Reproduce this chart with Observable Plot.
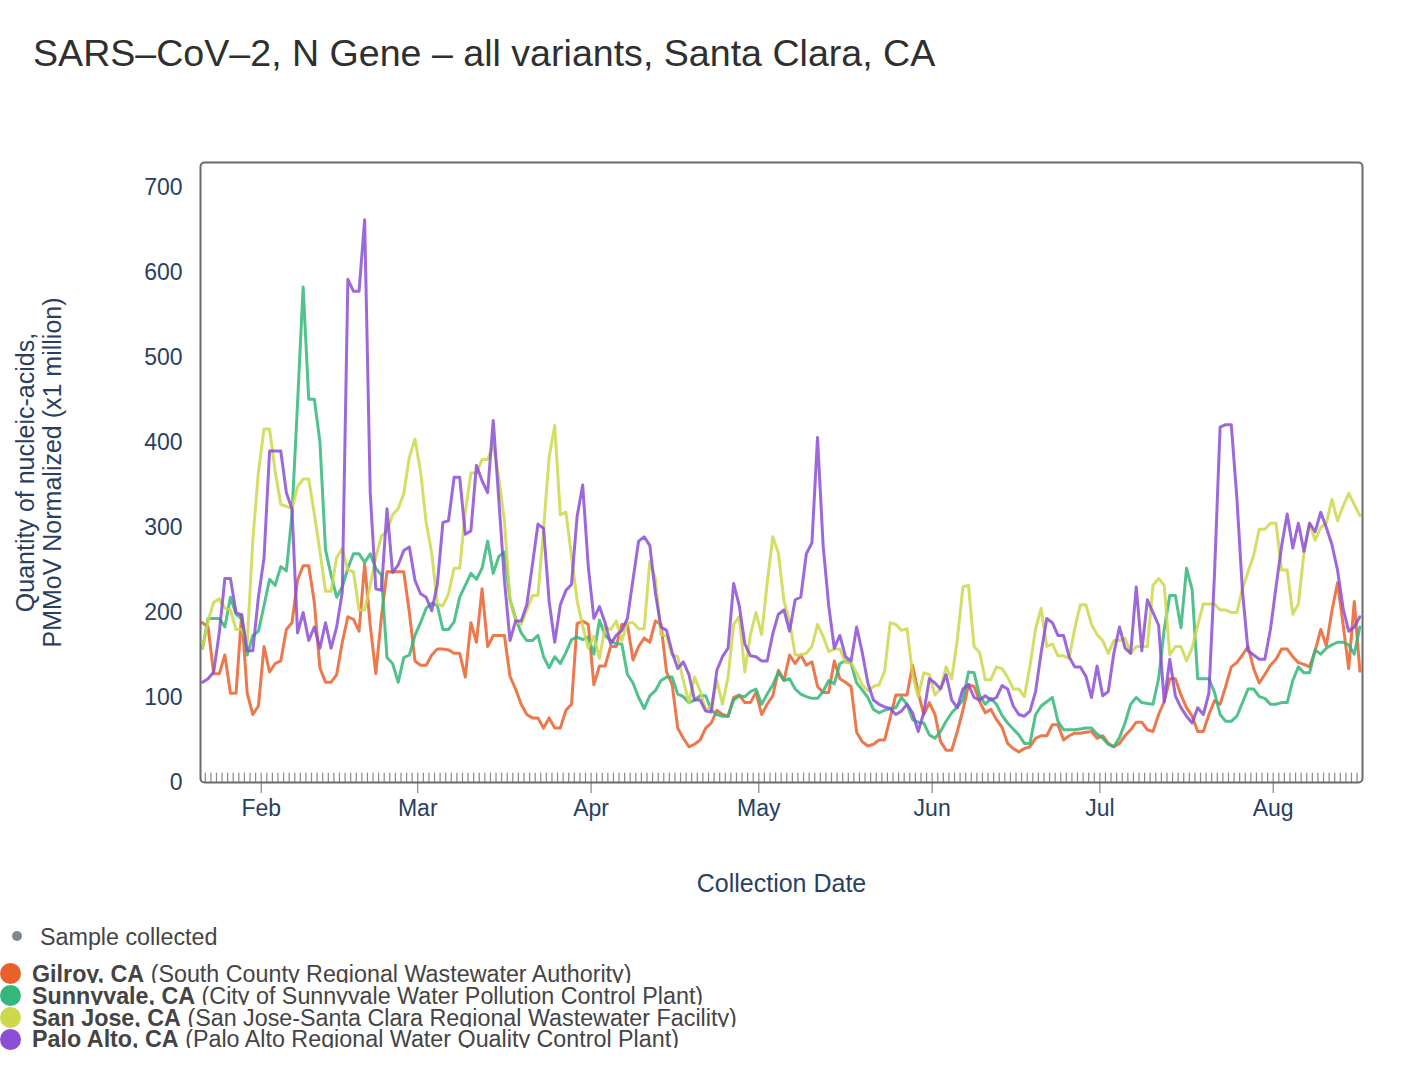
<!DOCTYPE html>
<html>
<head>
<meta charset="utf-8">
<script src="https://cdn.jsdelivr.net/npm/d3@7"></script>
<script src="https://cdn.jsdelivr.net/npm/@observablehq/plot@0.6"></script>
<style>
  html, body { margin: 0; padding: 0; background: #fff; }
  #page { position: relative; width: 1402px; height: 1066px; overflow: hidden; font-family: "Liberation Sans", Arial, Helvetica, sans-serif; }
  #title { position: absolute; left: 33px; top: 35px; font-size: 37.6px; line-height: 37px; color: #2f2f2f; white-space: nowrap; }
  #chart { position: absolute; left: 0; top: 100px; }
  .lg-row { position: absolute; left: 32px; height: 23px; line-height: 28px; font-size: 23.3px; color: #444; white-space: nowrap; overflow: hidden; }
  .lg-row b { font-weight: bold; }
  .dot { position: absolute; border-radius: 50%; }
</style>
</head>
<body>
<div id="page">
  <div id="title"></div>
  <div id="chart"></div>
  <div id="legend"></div>
</div>
<script>
// ---- data ----
const titleText = "SARS\u2013CoV\u20132, N Gene \u2013 all variants, Santa Clara, CA";
const yTitle1 = "Quantity of nucleic-acids,";
const yTitle2 = "PMMoV Normalized (x1 million)";
const xTitle = "Collection Date";
const firstSampleDate = [2023, 0, 21]; // daily samples from this date
const siteNames = ["Gilroy, CA", "Sunnyvale, CA", "San Jose, CA", "Palo Alto, CA"];
const siteDescs = [
  "(South County Regional Wastewater Authority)",
  "(City of Sunnyvale Water Pollution Control Plant)",
  "(San Jose-Santa Clara Regional Wastewater Facility)",
  "(Palo Alto Regional Water Quality Control Plant)"
];
const siteColors = ["#E9602B", "#33B77A", "#CDD84B", "#8B4DD6"];
const monthTickDates = ["2023-02-01","2023-03-01","2023-04-01","2023-05-01","2023-06-01","2023-07-01","2023-08-01"];
const yTicks = [0, 100, 200, 300, 400, 500, 600, 700];

const gilroy = [
  188,183,128,128,150,105,105,198,105,80,
  90,160,130,140,143,180,188,238,255,255,
  212,135,118,118,127,165,195,192,178,257,
  185,128,195,248,248,248,248,200,143,138,
  138,150,157,157,156,152,152,124,188,165,
  228,160,173,173,173,125,110,92,80,76,
  76,64,76,64,64,85,92,187,190,186,
  115,137,137,160,160,186,186,144,160,170,
  165,190,186,130,115,64,52,42,45,50,
  64,70,85,80,78,100,103,94,94,106,
  80,92,102,132,120,150,140,150,138,142,
  113,106,106,143,122,118,113,59,48,43,
  45,50,50,76,103,103,103,138,106,80,
  94,80,48,38,38,60,85,115,113,95,
  82,86,74,65,46,40,36,40,42,52,
  55,55,68,68,50,55,58,58,59,60,
  52,55,46,42,46,55,62,71,71,62,
  60,80,95,122,122,103,88,78,60,60,
  80,96,92,113,136,141,150,160,134,117,
  127,138,145,157,157,148,141,139,136,155,
  180,161,202,235,186,134,213,131
];
const sunnyvale = [
  158,193,193,193,183,218,198,193,150,173,
  178,208,239,232,254,249,315,446,583,451,
  451,401,274,244,218,230,252,269,269,259,
  269,252,244,147,140,118,147,150,173,188,
  205,211,208,180,180,189,218,232,246,239,
  252,284,246,266,271,215,193,176,167,167,
  173,148,135,148,140,153,168,171,168,171,
  151,191,173,167,163,163,127,117,100,87,
  102,108,120,124,124,104,101,94,97,102,
  102,85,80,78,78,97,102,101,107,110,
  92,104,115,130,120,122,110,104,101,99,
  99,107,120,116,140,143,140,117,109,100,
  86,82,85,87,88,100,92,74,71,70,
  56,52,60,72,82,89,97,130,129,102,
  92,99,92,79,70,63,56,46,46,80,
  90,95,100,72,62,62,62,63,64,64,
  57,52,45,42,53,70,92,100,94,93,
  92,122,180,220,220,182,252,227,122,122,
  122,106,80,72,72,78,94,110,110,101,
  99,92,92,94,94,120,136,129,129,156,
  151,158,162,165,165,162,151,183
];
const sanJose = [
  158,190,212,216,205,203,180,180,165,285,
  365,416,416,366,327,325,322,348,357,357,
  316,272,225,225,265,275,250,248,203,203,
  232,265,290,295,315,322,340,383,404,366,
  306,270,210,208,222,252,252,318,364,364,
  380,380,398,358,308,214,190,186,203,220,
  220,298,383,420,315,318,266,214,184,158,
  172,146,183,180,190,167,188,188,181,181,
  260,240,174,172,150,148,120,94,124,108,
  85,90,120,92,124,186,195,130,174,200,
  174,235,289,270,213,190,150,150,152,160,
  186,172,154,157,157,141,141,129,115,108,
  113,115,131,188,186,179,181,127,101,129,
  127,103,110,136,122,168,230,232,160,153,
  121,121,136,134,124,110,110,101,137,181,
  205,160,163,149,149,146,181,209,209,186,
  174,167,152,167,167,170,152,160,160,160,
  232,240,232,150,160,160,143,158,185,210,
  210,210,203,203,200,200,228,248,267,298,
  298,305,305,250,250,198,210,270,305,285,
  300,305,333,308,325,340,327,314
];
const paloAlto = [
  118,122,130,176,240,240,200,197,155,155,
  218,264,390,390,390,341,322,176,200,167,
  183,158,188,158,183,224,592,578,578,662,
  341,228,226,322,247,256,273,277,238,222,
  218,202,233,306,308,359,359,292,296,373,
  355,341,426,332,238,167,190,190,209,256,
  304,299,213,165,209,226,233,313,350,254,
  193,207,188,163,173,179,193,239,284,289,
  279,223,183,179,153,134,142,127,97,97,
  84,83,132,148,158,234,208,163,149,148,
  143,143,175,198,203,178,215,218,269,282,
  406,279,208,158,173,148,143,183,153,117,
  97,92,89,87,80,84,92,82,60,82,
  122,117,110,127,97,88,110,115,100,97,
  102,97,100,114,110,90,80,78,84,107,
  153,193,188,173,173,148,136,136,125,100,
  137,102,107,152,183,158,152,230,155,215,
  200,185,95,145,102,88,78,70,88,80,
  105,245,418,421,421,335,225,155,150,145,
  145,180,230,278,316,276,305,272,305,295,
  318,300,280,250,205,178,183,195
];
const seriesValues = [gilroy, sunnyvale, sanJose, paloAlto];

// ---- build table ----
const rows = [];
seriesValues.forEach((vals, s) => {
  vals.forEach((v, i) => {
    rows.push({
      site: siteNames[s],
      date: new Date(Date.UTC(firstSampleDate[0], firstSampleDate[1], firstSampleDate[2] + i, 12)),
      value: v
    });
  });
});
const nDays = gilroy.length;
const xDomain = [
  new Date(Date.UTC(2023, 0, 21, 3, 26)),
  new Date(Date.UTC(2023, 0, 21 + nDays - 1, 23, 17))
];
const dayTicks = d3.utcDay.range(new Date(Date.UTC(2023, 0, 22)), xDomain[1]);
const monthTicks = monthTickDates.map(s => new Date(s + "T00:00:00Z"));
const axisColor = "#2a3f5f";

const chart = Plot.plot({
  width: 1402,
  height: 810,
  marginLeft: 200,
  marginRight: 40,
  marginTop: 62,
  marginBottom: 128,
  style: { background: "white", fontFamily: "'Liberation Sans', Arial, sans-serif", overflow: "visible" },
  x: { type: "utc", domain: xDomain },
  y: { domain: [0, 729.4] },
  color: { domain: siteNames, range: siteColors },
  marks: [
    Plot.ruleX(dayTicks, { x: d => d, y1: 0, y2: 11, stroke: "#8a8a8a", strokeWidth: 1.2 }),
    Plot.line(rows, { x: "date", y: "value", z: "site", stroke: "site", strokeWidth: 3, strokeOpacity: 0.85 }),
    Plot.frame({ stroke: "#6b6b6b", strokeWidth: 2, rx: 4 }),
    Plot.axisX({ ticks: monthTicks, tickFormat: d3.utcFormat("%b"), tickSize: 11, tickPadding: 6,
                 fontSize: 23, fill: axisColor, stroke: "#6b6b6b", label: null }),
    Plot.axisY({ ticks: yTicks, tickSize: 0, tickPadding: 18, fontSize: 23, fill: axisColor, label: null }),
    Plot.text([yTitle1], { text: d => d, frameAnchor: "left", rotate: -90, dx: -175, fontSize: 25, fill: axisColor, textAnchor: "middle", lineAnchor: "middle" }),
    Plot.text([yTitle2], { text: d => d, frameAnchor: "left", rotate: -90, dx: -148, fontSize: 25, fill: axisColor, textAnchor: "middle", lineAnchor: "middle" }),
    Plot.text([xTitle], { text: d => d, frameAnchor: "bottom", dy: 101, fontSize: 25, fill: axisColor, lineAnchor: "middle" })
  ]
});
document.getElementById("chart").appendChild(chart);
document.getElementById("title").textContent = titleText;

// ---- legend ----
const legend = document.getElementById("legend");
const sample = document.createElement("div");
sample.className = "lg-row";
sample.style.left = "40px";
sample.style.top = "923px";
sample.style.height = "30px";
sample.textContent = "Sample collected";
legend.appendChild(sample);
const sdot = document.createElement("div");
sdot.className = "dot";
Object.assign(sdot.style, { left: "12px", top: "931px", width: "10px", height: "10px", background: "#7d8893" });
legend.appendChild(sdot);

const baseTops = [960.2, 981.9, 1003.6, 1025.3];
const dotCenters = [973, 995, 1017, 1039];
siteNames.forEach((name, i) => {
  const r = document.createElement("div");
  r.className = "lg-row";
  r.style.top = baseTops[i] + "px";
  const b = document.createElement("b");
  b.textContent = name;
  r.appendChild(b);
  r.appendChild(document.createTextNode(" " + siteDescs[i]));
  legend.appendChild(r);
  const d = document.createElement("div");
  d.className = "dot";
  Object.assign(d.style, { left: "0px", top: (dotCenters[i] - 10.5) + "px", width: "21px", height: "21px", background: siteColors[i] });
  legend.appendChild(d);
});
</script>
</body>
</html>
